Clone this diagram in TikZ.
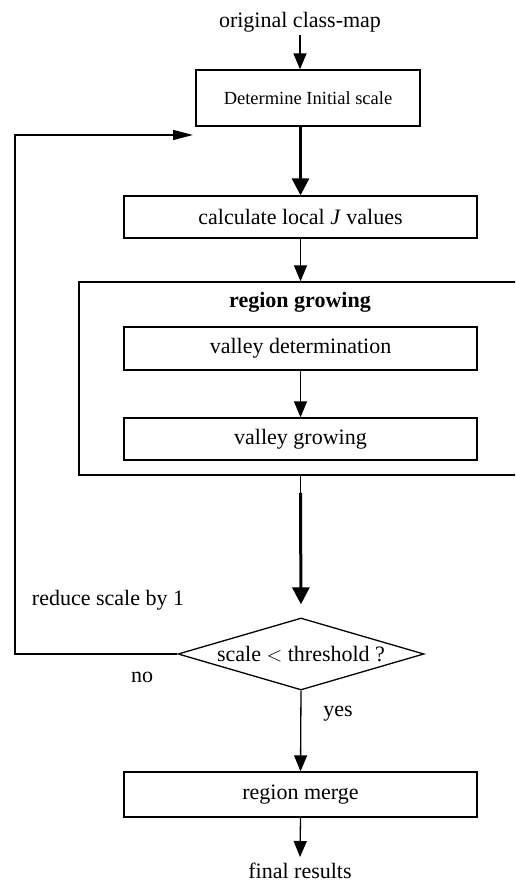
\documentclass[tikz,border=0pt]{standalone}
\usepackage{fontspec}
\setmainfont{Liberation Serif}
\usepackage{xcolor}
\usepackage{tikz}
\usetikzlibrary{arrows.meta,shapes.geometric}

\begin{document}
\begin{tikzpicture}[x=1pt,y=1pt,
  box/.style={draw=drawColor,line width=1.3pt,inner sep=0pt,minimum width=353pt,
    font=\fontsize{22}{26}\selectfont},
  decision/.style={diamond,draw=drawColor,line width=1.3pt,inner sep=0pt,aspect=3.4,
    minimum width=246pt,minimum height=72pt,font=\fontsize{22}{26}\selectfont},
  lbl/.style={inner sep=0pt,font=\fontsize{22}{26}\selectfont},
  thinarrow/.style={draw=drawColor,line width=1.3pt,-{Triangle[length=16pt,width=13pt]}},
  thickarrow/.style={draw=drawColor,line width=3pt,-{Triangle[length=17pt,width=17pt]}}]
\definecolor{drawColor}{RGB}{0,0,0}
\definecolor{fillColor}{RGB}{255,255,255}
\path[use as bounding box,fill=fillColor] (0,0) rectangle (515,883);
\clip (0,0) rectangle (515,883);

% main column
\node[lbl,inner sep=3.3pt] (orig) at (300,861) {original class-map};
\node[box,minimum width=224pt,minimum height=56pt,font=\fontsize{18.5}{22}\selectfont] (init) at (308,785) {Determine Initial scale};
\node[box,minimum height=42pt] (calc) at (300.5,666) {calculate local \textit{J} values};

% region growing block, open on the right
\node[draw=drawColor,line width=1.3pt,inner sep=0pt,minimum width=451pt,minimum height=193pt] (grow) at (304.5,504.5) {};
\node[lbl,font=\fontsize{22}{26}\selectfont\bfseries] (growtitle) at (300,581) {region growing};
\node[box,minimum height=43pt] (valdet) at (300.5,534.5) {valley determination};
\node[box,minimum height=42pt] (valgrow) at (300.5,444) {valley growing};

\node[decision] (dec) at (301,229) {scale $<$ threshold ?};
\node[box,minimum height=45pt] (merge) at (300.5,88.5) {region merge};
\node[lbl,anchor=base,inner sep=3.3pt] (final) at (300,5) {final results};

% side labels
\node[lbl] (reduce) at (108,283) {reduce scale by 1};
\node[lbl] (no) at (142,206) {no};
\node[lbl] (yes) at (338,169) {yes};

\coordinate (gbottom) at (300.5,390);
\coordinate (loopend) at (193,748);

\path[thinarrow] (orig.south) -- (orig.south |- init.north);
\path[thickarrow] (init.south -| calc.north) -- (calc.north);
\path[thinarrow] (calc.south) -- (calc.south |- grow.north);
\path[thinarrow] (valdet.south) -- (valgrow.north);
\path[draw=drawColor,line width=1.3pt] (valgrow.south |- grow.south) -- (gbottom);
\path[thickarrow,shorten >=13pt] (gbottom) -- (dec.north);
\path[thinarrow] (dec.south) -- (merge.north);
\path[thinarrow,shorten >=2pt] (merge.south) -- (final.north);

% loop back when the scale is still too large
\path[draw=drawColor,line width=1.3pt,-{Triangle[length=20pt,width=10pt]}]
  (dec.west) -- (15,229) -- (15,748) -- (loopend);
\end{tikzpicture}
\end{document}
